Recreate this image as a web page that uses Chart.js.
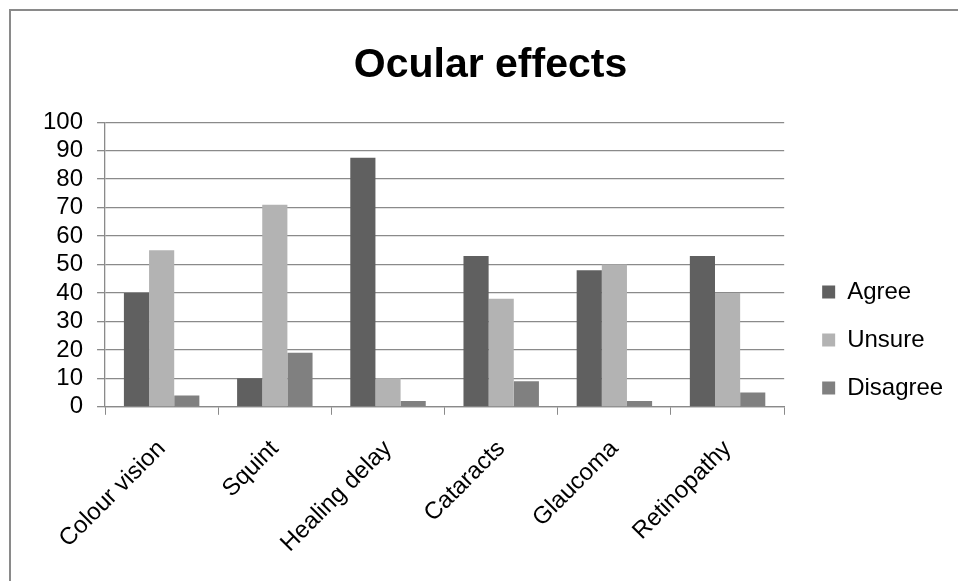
<!DOCTYPE html>
<html>
<head>
<meta charset="utf-8">
<title>Ocular effects</title>
<script src="https://cdn.jsdelivr.net/npm/chart.js@4.4.1/dist/chart.umd.min.js"></script>
<style>
  html, body { margin: 0; padding: 0; background: #fff; overflow: hidden; }
  #frame {
    position: absolute; left: 9px; top: 9px; width: 1000px; height: 1000px;
    border: 2px solid #8a8a8a; box-sizing: border-box;
  }
  #wrap { position: absolute; left: 0; top: 0; width: 958px; height: 581px; }
</style>
</head>
<body>
<div id="frame"></div>
<div id="wrap"><canvas id="chart"></canvas></div>
<script>
// Survey answers, percent of respondents per ocular effect
const CATEGORIES = ["Colour vision", "Squint", "Healing delay", "Cataracts", "Glaucoma", "Retinopathy"];
const AGREE = [40, 10, 87.5, 53, 48, 53];
const UNSURE = [55, 71, 10, 38, 50, 40];
const DISAGREE = [4, 19, 2, 9, 2, 5];
const Y_TICKS = [0, 10, 20, 30, 40, 50, 60, 70, 80, 90, 100];

const FONT = "'Liberation Sans', Arial, sans-serif";
const GRID = "#8a8a8a";

function series(label, data, color) {
  return {
    label,
    data,
    backgroundColor: color,
    borderColor: color,
    borderWidth: 0,
    categoryPercentage: 3 / 4.5,
    barPercentage: 1,
  };
}

new Chart(document.getElementById("chart"), {
  type: "bar",
  data: {
    labels: CATEGORIES,
    datasets: [
      series("Agree", AGREE, "#606060"),
      series("Unsure", UNSURE, "#b3b3b3"),
      series("Disagree", DISAGREE, "#808080"),
    ],
  },
  options: {
    responsive: true,
    maintainAspectRatio: false,
    animation: false,
    layout: { padding: { left: 29, right: 6, top: 0, bottom: 3 } },
    plugins: {
      tooltip: { enabled: false },
      title: {
        display: true,
        text: "Ocular effects",
        color: "#000",
        font: { family: FONT, size: 41, weight: "bold" },
        padding: { top: 41, bottom: 32 },
      },
      legend: {
        position: "right",
        // blank legend title only pushes the key down to where the reference has it
        title: { display: true, text: " ", font: { size: 10 }, padding: { top: 0, bottom: 90 } },
        labels: {
          color: "#000",
          font: { family: FONT, size: 24 },
          boxWidth: 13,
          boxHeight: 13,
          padding: 24,
        },
      },
    },
    scales: {
      x: {
        grid: { drawOnChartArea: false, drawTicks: true, tickLength: 8, color: GRID, offset: true },
        border: { color: GRID, width: 1.3 },
        ticks: { color: "#000", font: { family: FONT, size: 24 }, maxRotation: 45, minRotation: 45, padding: 20 },
      },
      y: {
        min: 0,
        max: 100,
        afterBuildTicks: (s) => { s.ticks = Y_TICKS.map((v) => ({ value: v })); },
        grid: { color: GRID, lineWidth: 1.3, tickLength: 8 },
        border: { color: GRID, width: 1.3 },
        ticks: { color: "#000", font: { family: FONT, size: 24 }, padding: 14, autoSkip: false },
      },
      gap: {
        position: "right",
        display: true,
        grid: { display: false },
        border: { display: false },
        ticks: { display: false },
        afterFit: (s) => { s.width = 14; },
      },
    },
  },
});
</script>
</body>
</html>
